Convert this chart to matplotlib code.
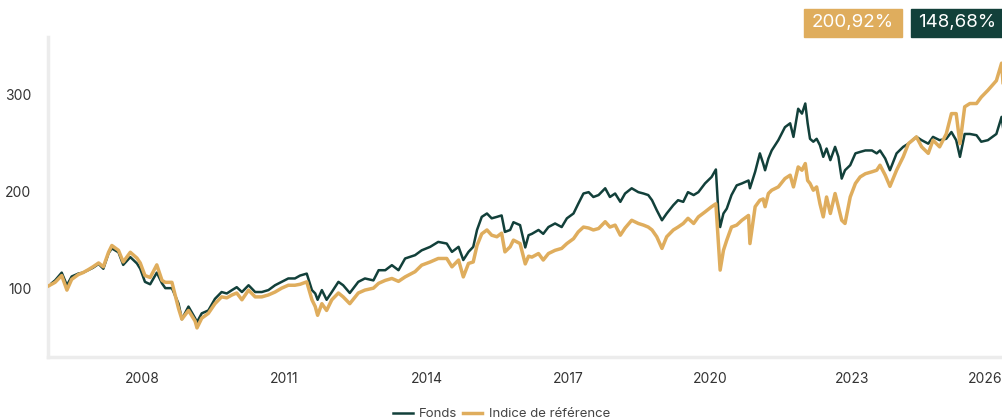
import matplotlib
matplotlib.use("Agg")
import matplotlib.pyplot as plt
from matplotlib.patches import Rectangle
from matplotlib.transforms import ScaledTranslation

plt.rcParams['font.family'] = ['Inter', 'DejaVu Sans']

# dates en années décimales, valeurs base 100
annees = [
    2006.00, 2006.15, 2006.29, 2006.40, 2006.50, 2006.64, 2006.74, 2006.85, 2006.95,
    2007.07, 2007.17, 2007.28, 2007.35, 2007.49, 2007.59, 2007.74, 2007.88, 2007.95,
    2008.05, 2008.16, 2008.30, 2008.41, 2008.48, 2008.62, 2008.76, 2008.83, 2008.97,
    2009.11, 2009.15, 2009.25, 2009.39, 2009.53, 2009.67, 2009.78, 2009.89, 2009.99,
    2010.10, 2010.24, 2010.38, 2010.52, 2010.66, 2010.80, 2010.94, 2011.08, 2011.22,
    2011.33, 2011.47, 2011.58, 2011.65, 2011.70, 2011.79, 2011.89, 2012.00, 2012.14,
    2012.24, 2012.38, 2012.56, 2012.70, 2012.88, 2012.99, 2013.13, 2013.27, 2013.41,
    2013.55, 2013.76, 2013.90, 2014.08, 2014.25, 2014.43, 2014.54, 2014.68, 2014.78,
    2014.89, 2014.99, 2015.07, 2015.17, 2015.28, 2015.38, 2015.49, 2015.59, 2015.66,
    2015.77, 2015.84, 2015.98, 2016.09, 2016.16, 2016.23, 2016.37, 2016.47, 2016.58,
    2016.72, 2016.86, 2016.97, 2017.11, 2017.21, 2017.32, 2017.43, 2017.53, 2017.64,
    2017.78, 2017.88, 2017.99, 2018.10, 2018.20, 2018.34, 2018.48, 2018.59, 2018.69,
    2018.77, 2018.87, 2018.98, 2019.08, 2019.22, 2019.32, 2019.43, 2019.53, 2019.65,
    2019.75, 2019.89, 2020.03, 2020.12, 2020.17, 2020.21, 2020.28, 2020.35, 2020.45,
    2020.56, 2020.67, 2020.81, 2020.84, 2020.95, 2021.05, 2021.12, 2021.16, 2021.23,
    2021.30, 2021.44, 2021.58, 2021.69, 2021.76, 2021.86, 2021.94, 2022.01, 2022.06,
    2022.11, 2022.18, 2022.25, 2022.32, 2022.39, 2022.46, 2022.54, 2022.64, 2022.71,
    2022.78, 2022.85, 2022.96, 2023.07, 2023.17, 2023.28, 2023.42, 2023.52, 2023.59,
    2023.70, 2023.80, 2023.94, 2024.08, 2024.19, 2024.36, 2024.47, 2024.61, 2024.71,
    2024.85, 2024.99, 2025.10, 2025.20, 2025.28, 2025.38, 2025.49, 2025.63, 2025.73,
    2025.87, 2026.05, 2026.16, 2026.19,
]

fonds = [
    102, 108, 116, 103, 112, 115, 116, 118.6, 121,
    125, 120, 136, 141, 137, 124, 132, 125.5, 120,
    106.5, 104, 116, 105, 100, 100, 84, 68, 81,
    69, 65, 74, 77, 89, 96, 94.5, 98, 101,
    96, 103, 96, 96, 98, 103, 106.5, 110, 110,
    113, 115, 98, 94.5, 88, 98, 88, 96, 106.5,
    103, 95, 106.5, 110, 108, 118.5, 118.5, 123.7, 118.5,
    130.6, 134, 139, 142.6, 147.7, 146, 137.4, 142.6, 129,
    137.4, 142.6, 160, 173.5, 177, 172, 173.5, 175, 158,
    160, 168, 165, 142, 154.6, 156, 160, 156, 163,
    166.7, 163, 172, 177, 187, 197.6, 199, 194, 196,
    203, 194, 197.6, 189, 197.6, 203, 199, 197.6, 196,
    190.7, 180.4, 170, 177, 185.6, 190.7, 189, 199, 196,
    199, 208, 214.7, 222.4, 180.4, 163, 177, 182, 196,
    206, 208, 211, 203, 220, 239, 228.5, 221.6, 233.7,
    242, 252.6, 266, 270, 256, 285, 280, 290.4, 270,
    254, 251, 254, 247.4, 235.4, 244, 232, 245.7, 235.4,
    213, 221.6, 226.8, 239, 240.5, 242, 242, 239, 242,
    233.7, 221.6, 239, 245.7, 249, 256, 252.6, 249, 256,
    252.6, 254, 261, 252.6, 235.4, 259, 259, 257.7, 251,
    252.6, 259, 276.6, 266,
]

indice = [
    102, 106, 113, 98, 109, 114, 116, 119, 122,
    126, 122, 137, 144, 139, 127, 137, 131, 126,
    113, 111, 124, 108, 106, 106, 79, 68, 77,
    66, 59, 69, 74, 84, 91, 90, 93, 95,
    88, 98, 91, 91, 93, 96, 100, 103, 103,
    104, 106.5, 88, 81, 72, 84, 77, 88, 95,
    91, 84, 95, 98, 100, 105, 108, 110, 107,
    111.6, 117, 123.7, 127, 130.6, 130.6, 122, 129, 111.6,
    125.5, 127, 144, 156, 160, 154.6, 153, 156.7, 137.4,
    142.6, 149.5, 146, 125, 133, 132, 135.7, 129, 135.7,
    139, 141, 146, 151, 158, 163, 162, 160, 161.5,
    168.5, 163, 165, 154.6, 162, 170, 166.7, 165, 163,
    160, 153, 141, 153, 160, 163, 166.7, 172, 166.7,
    173.5, 178.6, 184, 187, 149.5, 118.6, 139, 149.5, 163,
    165, 170, 175, 146, 184, 190.7, 192, 184, 197.6,
    201, 204.4, 213, 216.5, 204.4, 225, 221.6, 228.5, 211,
    208, 201, 204.4, 187, 173.5, 194, 177, 197.6, 184,
    170, 166.7, 194, 208, 214.7, 218, 220, 221.6, 226.8,
    216.5, 205, 221.6, 235.4, 249, 256, 245.7, 239, 252.6,
    245.7, 259, 280, 280, 249, 287, 290.4, 290.4, 297,
    304, 314, 332, 312,
]

annees_ticks = [2008, 2011, 2014, 2017, 2020, 2023, 2026]
perf_indice = "200,92%"
perf_fonds = "148,68%"

vert = '#12403a'
or_ = '#dfad5d'
gris = '#ececec'

fig = plt.figure(figsize=(10.03, 4.19), dpi=100)
ax = fig.add_axes([48 / 1003, 62 / 419, 955 / 1003, 320 / 419])

ax.plot(annees, fonds, color=vert, lw=1.8, label='Fonds', zorder=2)
ax.plot(annees, indice, color=or_, lw=2.5, label='Indice de référence', zorder=3)

ax.set_xlim(2006.0, 2026.19)
ax.set_ylim(29, 359)
ax.set_yticks([100, 200, 300])
ax.set_xticks(annees_ticks)
ax.set_xticklabels([str(a) for a in annees_ticks])
ax.tick_params(length=0, labelsize=10, labelcolor='#333333')
ax.tick_params(axis='y', pad=12)
ax.tick_params(axis='x', pad=11)

for s in ['top', 'right']:
    ax.spines[s].set_visible(False)
for s in ['left', 'bottom']:
    ax.spines[s].set_color(gris)
    ax.spines[s].set_linewidth(2.5)

# dernier label décalé pour rester dans l'image
lab = ax.get_xticklabels()[-1]
lab.set_transform(lab.get_transform() + ScaledTranslation(-0.09, 0, fig.dpi_scale_trans))

# encadrés de performance
for x0, w, col, txt in [(804, 98, or_, perf_indice), (911, 92, vert, perf_fonds)]:
    fig.patches.append(Rectangle((x0 / 1003, (419 - 37) / 419), w / 1003, 28 / 419,
                                 transform=fig.transFigure, color=col, zorder=5))
    fig.text((x0 + w / 2) / 1003, (419 - 23) / 419, txt, color='white', fontsize=13.5,
             ha='center', va='center', zorder=6)

leg = fig.legend(loc='center', bbox_to_anchor=(0.5, 5 / 419), ncol=2, frameon=False,
                 fontsize=9.5, handlelength=1.5, handletextpad=0.5, columnspacing=0.4,
                 borderaxespad=0)
for t in leg.get_texts():
    t.set_color('#444444')

fig.savefig('out.png', dpi=100)
